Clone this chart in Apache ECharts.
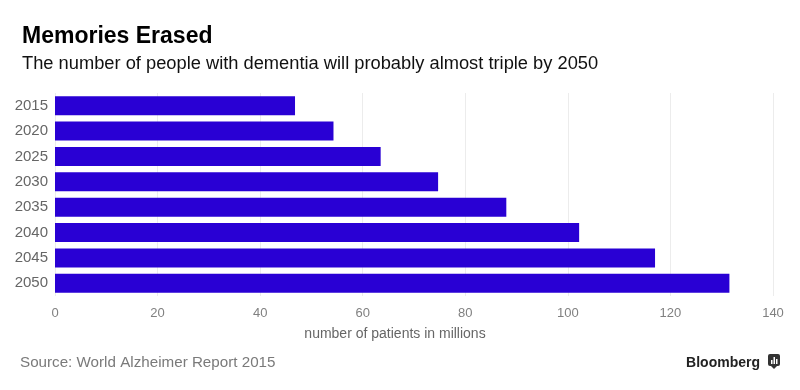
<!DOCTYPE html>
<html><head><meta charset="utf-8">
<script src="https://cdn.jsdelivr.net/npm/echarts@6/dist/echarts.min.js"></script>
<style>html,body{margin:0;padding:0;background:#fff}#c{width:800px;height:390px}</style>
</head><body><div id="c"></div>
<script>
const years = ['2015','2020','2025','2030','2035','2040','2045','2050'];
const patients = [46.8, 54.3, 63.5, 74.7, 88.0, 102.2, 117.0, 131.5];
const xTicks = [0, 20, 40, 60, 80, 100, 120, 140];

const chart = echarts.init(document.getElementById('c'));
const F = '"Liberation Sans", Arial, Helvetica, sans-serif';
chart.setOption({
  animation: false,
  backgroundColor: '#fff',
  title: [
    {text: 'Memories Erased', left: 17, top: 20, textStyle: {fontFamily: F, fontSize: 23, fontWeight: 'bold', color: '#000'}},
    {text: 'The number of people with dementia will probably almost triple by 2050', left: 17, top: 50, textStyle: {fontFamily: F, fontSize: 18.3, fontWeight: 'normal', color: '#111'}},
    {text: 'Source: World Alzheimer Report 2015', left: 15, top: 350, textStyle: {fontFamily: F, fontSize: 15.2, fontWeight: 'normal', color: '#7a7a7a'}},
    {text: 'Bloomberg', right: 35, top: 351, textStyle: {fontFamily: F, fontSize: 14, fontWeight: 'bold', color: '#222'}}
  ],
  grid: {left: 55, right: 27, top: 93, bottom: 94, containLabel: false},
  xAxis: {
    type: 'value', min: xTicks[0], max: xTicks[xTicks.length - 1], interval: 20,
    name: 'number of patients in millions', nameLocation: 'middle', nameGap: 31,
    nameTextStyle: {fontFamily: F, fontSize: 14, color: '#666', padding: [0, 38, 0, 0]},
    axisLine: {show: false}, axisTick: {show: false},
    axisLabel: {fontFamily: F, fontSize: 13, color: '#808080', margin: 11},
    splitLine: {show: true, lineStyle: {color: '#ececec', width: 1}}
  },
  yAxis: {
    type: 'category', data: years, inverse: true,
    axisLine: {show: false}, axisTick: {show: false},
    axisLabel: {fontFamily: F, fontSize: 15, color: '#666', margin: 7}
  },
  series: [{
    type: 'bar', data: patients, barCategoryGap: '25%',
    itemStyle: {color: '#2900d4'}
  }],
  graphic: [
    {type: 'rect', shape: {x: 768, y: 354, width: 12, height: 12, r: 2}, style: {fill: '#333'}},
    {type: 'polygon', shape: {points: [[771, 366], [777, 366], [774, 369]]}, style: {fill: '#333'}},
    {type: 'rect', shape: {x: 771, y: 360, width: 1.5, height: 4}, style: {fill: '#fff'}},
    {type: 'rect', shape: {x: 773.5, y: 357, width: 1.5, height: 7}, style: {fill: '#fff'}},
    {type: 'rect', shape: {x: 776, y: 359, width: 1.5, height: 5}, style: {fill: '#fff'}}
  ]
});
</script></body></html>
